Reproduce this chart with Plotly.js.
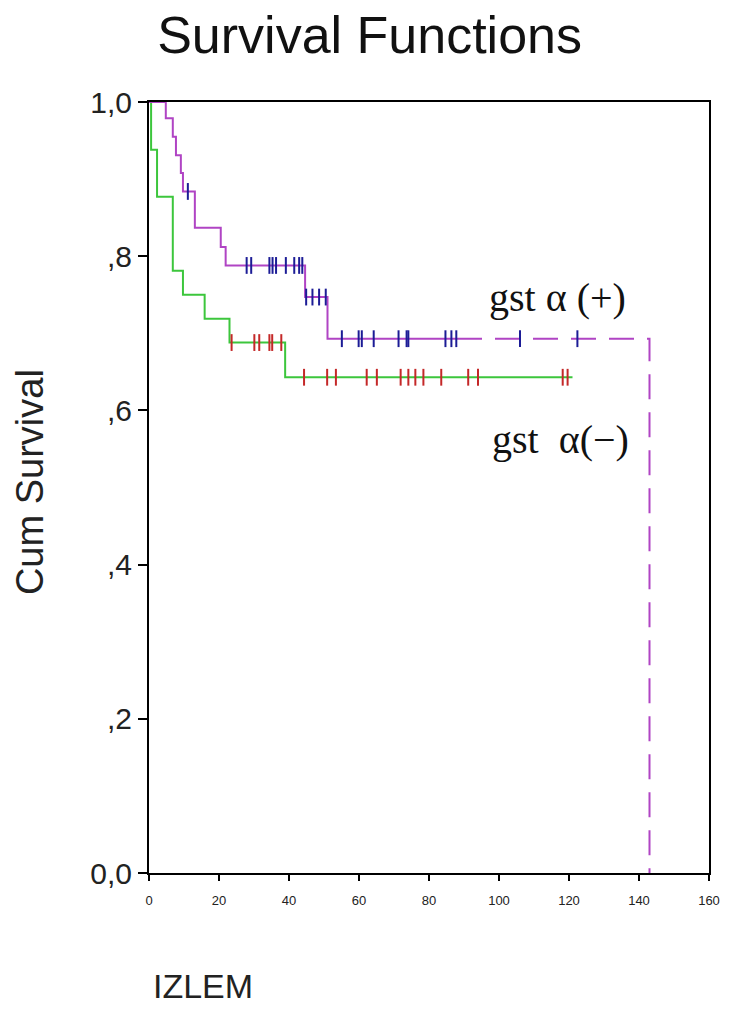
<!DOCTYPE html>
<html>
<head>
<meta charset="utf-8">
<script src="https://cdn.plot.ly/plotly-3.0.1.min.js"></script>
<style>html,body{margin:0;padding:0;background:#fff;}#chart{width:729px;height:1009px;}</style>
</head>
<body>
<div id="chart"></div>
<script>
// gst alpha (+) Kaplan-Meier steps (solid part)
const posStepTimes = [0, 4.8, 6.8, 7.7, 9.1, 9.7, 13.1, 20.5, 21.9, 44.6, 51.0, 88];
const posStepSurv  = [1.0, 0.979, 0.955, 0.931, 0.908, 0.884, 0.837, 0.812, 0.788, 0.747, 0.693, 0.693];
// dashed tail of gst alpha (+)
const posTailTimes = [88, 143, 143];
const posTailSurv  = [0.693, 0.693, 0.0];
// censored times gst alpha (+)
const posCensorTimes = [11.1, 27.9, 29.2, 34.4, 35.3, 36.3, 39.1, 41.5, 42.9, 43.8,
  44.9, 46.7, 48.6, 50.5, 55.1, 59.9, 60.8, 64.2, 71.3, 73.6, 74.1, 84.7, 86.4, 87.8, 106.0, 122.4];

// gst alpha (-) Kaplan-Meier steps
const negStepTimes = [0, 0.6, 2.3, 6.8, 9.7, 15.9, 23.0, 38.9, 121.0];
const negStepSurv  = [1.0, 0.938, 0.877, 0.781, 0.750, 0.719, 0.688, 0.643, 0.643];
// censored times gst alpha (-)
const negCensorTimes = [23.6, 30.1, 31.5, 34.4, 35.2, 37.8, 44.3, 50.9, 53.4, 62.2, 65.1,
  71.9, 74.1, 76.1, 78.4, 83.5, 91.2, 94.0, 118.2, 119.6];

const xTickVals = [0, 20, 40, 60, 80, 100, 120, 140, 160];
const yTickVals = [0, 0.2, 0.4, 0.6, 0.8, 1.0];
const yTickText = ['0,0', ',2', ',4', ',6', ',8', '1,0'];

const labelPos = 'gst α (+)';
const labelNeg = 'gst  α(−)';
const chartTitle = 'Survival Functions';
const xTitle = 'IZLEM';
const yTitle = 'Cum Survival';

function stepValue(times, surv, t) {
  let v = surv[0];
  for (let i = 0; i < times.length; i++) { if (times[i] <= t) v = surv[i]; }
  return v;
}

const posCensorSurv = posCensorTimes.map(t => stepValue(posStepTimes.concat([posTailTimes[1]]), posStepSurv.concat([posTailSurv[1]]), t));
const negCensorSurv = negCensorTimes.map(t => stepValue(negStepTimes, negStepSurv, t));

const purple = '#b044c4';
const green = '#3cc63c';
const navy = '#1c1c96';
const red = '#c42828';

const traces = [
  {x: negStepTimes, y: negStepSurv, mode: 'lines', line: {shape: 'hv', color: green, width: 2}, hoverinfo: 'skip'},
  {x: posStepTimes, y: posStepSurv, mode: 'lines', line: {shape: 'hv', color: purple, width: 2}, hoverinfo: 'skip'},
  {x: posTailTimes, y: posTailSurv, mode: 'lines', line: {shape: 'hv', color: purple, width: 2, dash: '25px,13px'}, hoverinfo: 'skip'},
  {x: negCensorTimes, y: negCensorSurv, mode: 'markers',
   marker: {symbol: 'line-ns-open', size: 12, color: red, line: {color: red, width: 2}}},
  {x: posCensorTimes, y: posCensorSurv, mode: 'markers',
   marker: {symbol: 'line-ns-open', size: 12, color: navy, line: {color: navy, width: 2}}}
];

const layout = {
  width: 729, height: 1009,
  margin: {l: 149, r: 20, t: 102, b: 136},
  paper_bgcolor: '#fff', plot_bgcolor: '#fff',
  showlegend: false,
  title: {text: chartTitle, x: 0.507, xanchor: 'center', y: 0.966, yanchor: 'middle',
          xref: 'container', yref: 'container',
          font: {family: 'Liberation Sans, Arial, sans-serif', size: 52, color: '#111'}},
  xaxis: {range: [0, 160], tickvals: xTickVals, ticktext: xTickVals.map(String),
          showgrid: false, zeroline: false, showline: true, mirror: true, linecolor: '#000', linewidth: 2,
          ticks: 'outside', ticklen: 6, tickwidth: 2, tickcolor: '#000', ticklabelstandoff: 8,
          tickfont: {family: 'Liberation Sans, Arial, sans-serif', size: 13, color: '#222'}},
  yaxis: {range: [0, 1], tickvals: yTickVals, ticktext: yTickText,
          showgrid: false, zeroline: false, showline: true, mirror: true, linecolor: '#000', linewidth: 2,
          ticks: 'outside', ticklen: 9, tickwidth: 2, tickcolor: '#000',
          tickfont: {family: 'Liberation Sans, Arial, sans-serif', size: 30, color: '#222'}},
  annotations: [
    {text: labelPos, xref: 'x', yref: 'y', x: 116.8, y: 0.747, showarrow: false, xanchor: 'center', yanchor: 'middle',
     font: {family: 'Liberation Serif, Times New Roman, serif', size: 40, color: '#111'}},
    {text: labelNeg, xref: 'x', yref: 'y', x: 117.6, y: 0.562, showarrow: false, xanchor: 'center', yanchor: 'middle',
     font: {family: 'Liberation Serif, Times New Roman, serif', size: 40, color: '#111'}},
    {text: xTitle, xref: 'paper', yref: 'paper', x: 0.096, y: -0.147, showarrow: false, xanchor: 'center', yanchor: 'middle',
     font: {family: 'Liberation Sans, Arial, sans-serif', size: 34, color: '#222'}},
    {text: yTitle, xref: 'paper', yref: 'paper', x: -0.2125, y: 0.507, showarrow: false, textangle: -90,
     xanchor: 'center', yanchor: 'middle',
     font: {family: 'Liberation Sans, Arial, sans-serif', size: 38, color: '#222'}}
  ]
};

Plotly.newPlot('chart', traces, layout, {displayModeBar: false, staticPlot: true});
</script>
</body>
</html>
